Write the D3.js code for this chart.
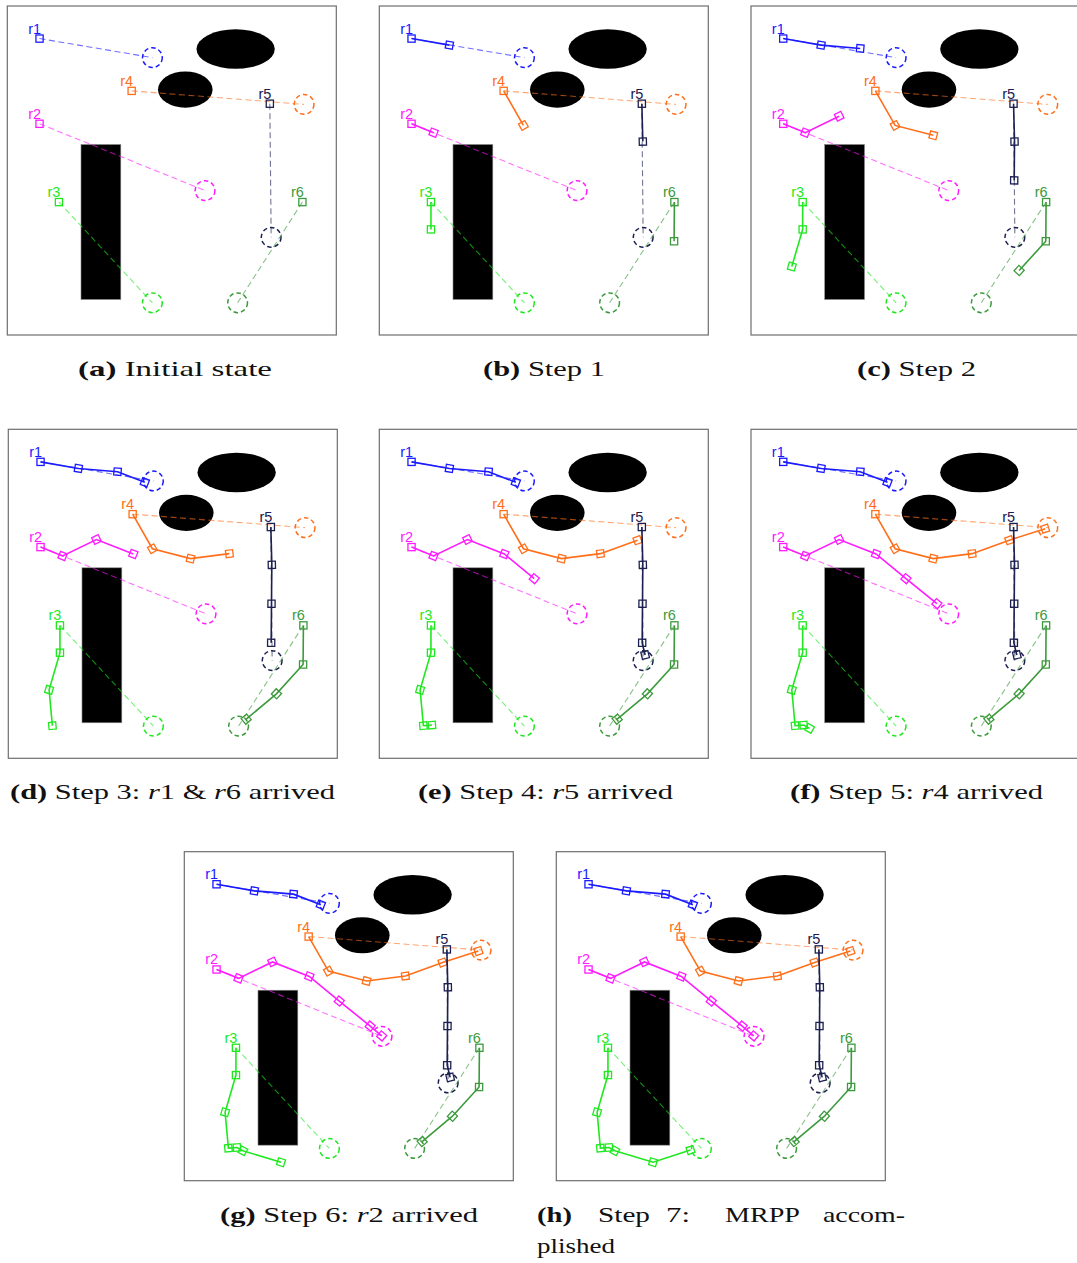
<!DOCTYPE html>
<html>
<head>
<meta charset="utf-8">
<script src="https://cdn.jsdelivr.net/npm/d3@7/dist/d3.min.js"></script>
<style>
  html, body { margin: 0; padding: 0; background: #ffffff; }
  svg { display: block; }
</style>
</head>
<body>
<div id="chart"></div>
<script>
// ---------------- DATA (world coordinates, 0..10 in both axes, y up) ----------------
const robots = ["r1", "r2", "r3", "r4", "r5", "r6"];
const startX = [0.98, 0.98, 1.57, 3.78, 7.98, 8.97];
const startY = [9.01, 6.42, 4.04, 7.42, 7.03, 4.04];
const goalX  = [4.41, 6.01, 4.41, 9.02, 8.02, 7.00];
const goalY  = [8.43, 4.39, 0.98, 7.01, 2.97, 0.98];

// waypoints reached at step 1, 2, 3, ... for each robot
const pathR1 = [[2.13, 8.81], [3.32, 8.71], [4.15, 8.39]];
const pathR2 = [[1.65, 6.15], [2.68, 6.65], [3.80, 6.21], [4.71, 5.46], [5.65, 4.70], [6.00, 4.40]];
const pathR3 = [[1.57, 3.21], [1.24, 2.08], [1.34, 0.99], [1.60, 1.01], [1.78, 0.91], [2.94, 0.56], [4.08, 0.93]];
const pathR4 = [[4.38, 6.37], [5.54, 6.07], [6.72, 6.22], [7.85, 6.63], [8.94, 6.98]];
const pathR5 = [[8.01, 5.88], [8.00, 4.70], [7.99, 3.51], [8.08, 3.14]];
const pathR6 = [[8.96, 2.85], [8.15, 1.96], [7.23, 1.19]];
const paths = [pathR1, pathR2, pathR3, pathR4, pathR5, pathR6];

// obstacles
const rectObstacles = [[2.24, 1.08, 3.45, 5.79]];           // x0, y0, x1, y1
const ellipseObstacles = [[6.94, 8.69, 1.19, 0.60],          // cx, cy, rx, ry
                          [5.41, 7.46, 0.83, 0.55]];
const goalRadius = 0.30;

// panels: step shown in each
const panelSteps = [0, 1, 2, 3, 4, 5, 6, 7];
const panelLabels = ["(a)", "(b)", "(c)", "(d)", "(e)", "(f)", "(g)", "(h)"];
// caption text: segments [text, italic?]
const captionTexts = [
  [["Initial state", 0]],
  [["Step 1", 0]],
  [["Step 2", 0]],
  [["Step 3: ", 0], ["r", 1], ["1 & ", 0], ["r", 1], ["6 arrived", 0]],
  [["Step 4: ", 0], ["r", 1], ["5 arrived", 0]],
  [["Step 5: ", 0], ["r", 1], ["4 arrived", 0]],
  [["Step 6: ", 0], ["r", 1], ["2 arrived", 0]],
  []
];
// justified caption (h): words on first line, then second line
const captionHWords = ["(h)", "Step", "7:", "MRPP", "accom-"];
const captionHSecond = "plished";

// ---------------- STYLE / LAYOUT ----------------
const colors = ["#1a1aff", "#ff1aff", "#1fe81f", "#ff6f1a", "#1c2050", "#3c9a3c"];
const W = 1077, H = 1263;
const P = 329; // panel size in px
const panelPos = [
  [7.3, 6], [379.3, 6], [751, 6],
  [8.3, 429.3], [379.3, 429.3], [751, 429.3],
  [184.3, 851.7], [556.3, 851.7]
];
// caption extents [x0, x1, baseline]
const captionPos = [
  [78, 272, 376], [483, 605, 376], [857, 976, 376],
  [10, 335, 799], [418, 673, 799], [790, 1043, 799],
  [220, 478, 1222], [537, 905, 1222]
];
// word extents for caption (h) [x0, x1]
const captionHWordPos = [[537, 572], [598, 650], [666, 690], [725, 800], [823, 905]];
const serif = "'Liberation Serif', 'Times New Roman', serif";

const svg = d3.select("#chart").append("svg")
  .attr("width", W).attr("height", H)
  .attr("viewBox", `0 0 ${W} ${H}`);

const x = d3.scaleLinear().domain([0, 10]).range([0, P]);
const y = d3.scaleLinear().domain([0, 10]).range([P, 0]);
const line = d3.line().x(d => x(d[0])).y(d => y(d[1]));
const sq = 7.2;

panelSteps.forEach((step, pi) => {
  const g = svg.append("g").attr("transform", `translate(${panelPos[pi][0]},${panelPos[pi][1]})`);
  g.append("rect").attr("x", 0).attr("y", 0).attr("width", P).attr("height", P)
    .attr("fill", "#fff").attr("stroke", "#6e6e6e").attr("stroke-width", 1.2);

  // obstacles
  g.selectAll(".rob").data(rectObstacles).join("rect")
    .attr("x", d => x(d[0])).attr("y", d => y(d[3]))
    .attr("width", d => x(d[2]) - x(d[0])).attr("height", d => y(d[1]) - y(d[3]))
    .attr("fill", "#000").attr("stroke", "#888").attr("stroke-width", 0.6);
  g.selectAll(".eob").data(ellipseObstacles).join("ellipse")
    .attr("cx", d => x(d[0])).attr("cy", d => y(d[1]))
    .attr("rx", d => x(d[2]) - x(0)).attr("ry", d => y(0) - y(d[3]))
    .attr("fill", "#000");

  robots.forEach((r, i) => {
    const c = colors[i];
    // straight dashed start->goal
    g.append("line")
      .attr("x1", x(startX[i])).attr("y1", y(startY[i]))
      .attr("x2", x(goalX[i])).attr("y2", y(goalY[i]))
      .attr("stroke", c).attr("stroke-opacity", 0.62).attr("stroke-width", 1.1)
      .attr("stroke-dasharray", "6,3.5");
    // goal circle
    g.append("circle")
      .attr("cx", x(goalX[i])).attr("cy", y(goalY[i]))
      .attr("r", x(goalRadius) - x(0))
      .attr("fill", "none").attr("stroke", c).attr("stroke-width", 1.5)
      .attr("stroke-dasharray", "4.5,3");
    // path up to this step
    const pts = [[startX[i], startY[i]]].concat(paths[i].slice(0, step));
    if (pts.length > 1) {
      g.append("path").attr("d", line(pts))
        .attr("fill", "none").attr("stroke", c).attr("stroke-width", 1.6);
    }
    pts.forEach((p, k) => {
      let ang = 0;
      if (k > 0) {
        const q = pts[k - 1];
        ang = Math.atan2(y(p[1]) - y(q[1]), x(p[0]) - x(q[0])) * 180 / Math.PI;
      }
      g.append("rect")
        .attr("x", -sq / 2).attr("y", -sq / 2).attr("width", sq).attr("height", sq)
        .attr("transform", `translate(${x(p[0])},${y(p[1])}) rotate(${ang})`)
        .attr("fill", "none").attr("stroke", c).attr("stroke-width", 1.3);
    });
    g.append("text")
      .attr("x", x(startX[i]) + 1.5).attr("y", y(startY[i]) - 5)
      .attr("text-anchor", "end")
      .attr("font-family", "'Liberation Sans', Arial, sans-serif")
      .attr("font-size", 14.5).attr("fill", c)
      .text(r);
  });

  // caption
  const cp = captionPos[pi];
  if (pi < 7) {
    const t = svg.append("text")
      .attr("x", cp[0]).attr("y", cp[2])
      .attr("font-family", serif)
      .attr("font-size", 22).attr("fill", "#111")
      .attr("textLength", cp[1] - cp[0])
      .attr("lengthAdjust", "spacingAndGlyphs");
    t.append("tspan").attr("font-weight", "bold").text(panelLabels[pi]);
    t.append("tspan").text(" ");
    captionTexts[pi].forEach(s => {
      t.append("tspan").attr("font-style", s[1] ? "italic" : "normal").text(s[0]);
    });
  } else {
    captionHWords.forEach((w, k) => {
      const wp = captionHWordPos[k];
      svg.append("text")
        .attr("x", wp[0]).attr("y", cp[2])
        .attr("font-family", serif)
        .attr("font-size", 22).attr("fill", "#111")
        .attr("font-weight", k === 0 ? "bold" : "normal")
        .attr("textLength", wp[1] - wp[0])
        .attr("lengthAdjust", "spacingAndGlyphs")
        .text(w);
    });
    svg.append("text")
      .attr("x", cp[0]).attr("y", cp[2] + 31)
      .attr("font-family", serif)
      .attr("font-size", 22).attr("fill", "#111")
      .attr("textLength", 78).attr("lengthAdjust", "spacingAndGlyphs")
      .text(captionHSecond);
  }
});
</script>
</body>
</html>
